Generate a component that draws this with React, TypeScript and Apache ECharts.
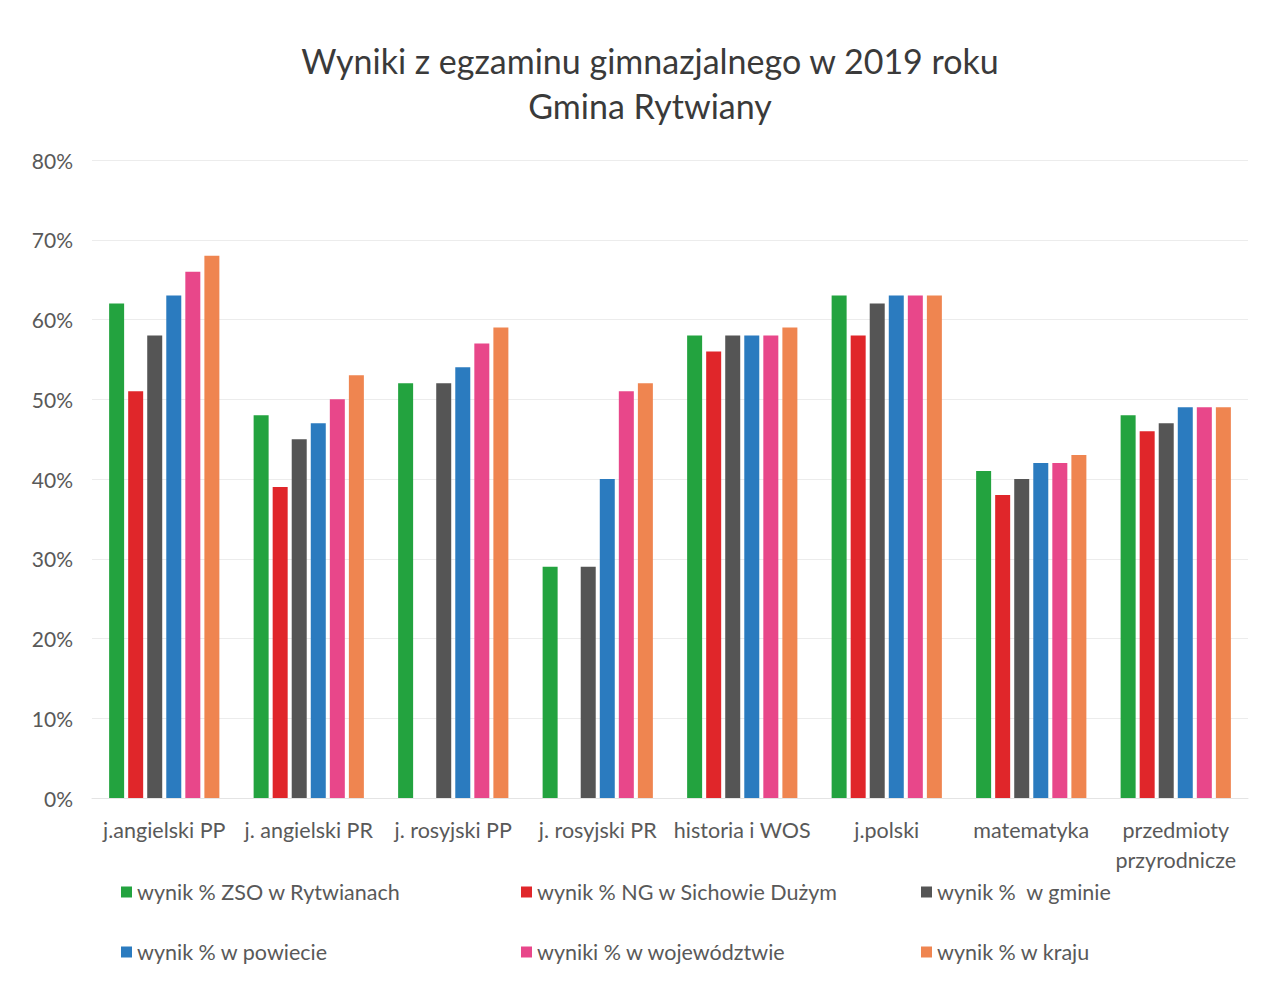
import React, { useEffect, useRef } from "react";
import * as echarts from "echarts";

const categories = [
  "j.angielski PP",
  "j. angielski PR",
  "j. rosyjski PP",
  "j. rosyjski PR",
  "historia i WOS",
  "j.polski",
  "matematyka",
  "przedmioty\nprzyrodnicze",
];

const seriesNames = [
  "wynik % ZSO w Rytwianach",
  "wynik % NG w Sichowie Dużym",
  "wynik %  w gminie",
  "wynik % w powiecie",
  "wyniki % w województwie",
  "wynik % w kraju",
];

const zso = [62, 48, 52, 29, 58, 63, 41, 48];
const ng = [51, 39, null, null, 56, 58, 38, 46];
const gmina = [58, 45, 52, 29, 58, 62, 40, 47];
const powiat = [63, 47, 54, 40, 58, 63, 42, 49];
const wojewodztwo = [66, 50, 57, 51, 58, 63, 42, 49];
const kraj = [68, 53, 59, 52, 59, 63, 43, 49];

const seriesValues = [zso, ng, gmina, powiat, wojewodztwo, kraj];
const colors = ["#23a33f", "#e0262a", "#555555", "#2b7bbf", "#e8478a", "#ef8550"];

const legendPos = [
  { left: 116, top: 876 },
  { left: 516, top: 876 },
  { left: 916, top: 876 },
  { left: 116, top: 936 },
  { left: 516, top: 936 },
  { left: 916, top: 936 },
];

export default function App() {
  const ref = useRef<HTMLDivElement>(null);
  useEffect(() => {
    if (!ref.current) return;
    const chart = echarts.init(ref.current, null, { renderer: "svg" });
    const font = "Lato, 'Open Sans', sans-serif";
    chart.setOption({
      animation: false,
      backgroundColor: "#ffffff",
      textStyle: { fontFamily: font },
      title: {
        text: "Wyniki z egzaminu gimnazjalnego w 2019 roku\nGmina Rytwiany",
        left: 645,
        top: 33,
        textAlign: "center",
        textStyle: {
          fontSize: 34,
          fontWeight: "normal",
          color: "#3a3a3a",
          lineHeight: 45,
          fontFamily: font,
        },
      },
      legend: seriesNames.map((n, i) => ({
        data: [n],
        left: legendPos[i].left,
        top: legendPos[i].top,
        icon: "rect",
        itemWidth: 11,
        itemHeight: 11,
        itemGap: 6,
        textStyle: { fontSize: 21.5, color: "#595959", fontFamily: font },
      })),
      grid: { left: 92, right: 17, top: 160, bottom: 187, containLabel: false },
      xAxis: {
        type: "category",
        data: categories,
        axisTick: { show: false },
        axisLine: { show: true, lineStyle: { color: "#e4e4e4" } },
        axisLabel: {
          interval: 0,
          fontSize: 21.5,
          color: "#595959",
          margin: 17,
          lineHeight: 30,
          fontFamily: font,
        },
      },
      yAxis: {
        type: "value",
        min: 0,
        max: 80,
        interval: 10,
        axisLine: { show: false },
        axisTick: { show: false },
        splitLine: { lineStyle: { color: "#ececec" } },
        axisLabel: {
          formatter: "{value}%",
          fontSize: 21,
          color: "#595959",
          margin: 19,
          fontFamily: font,
        },
      },
      series: seriesNames.map((n, i) => ({
        name: n,
        type: "bar",
        data: seriesValues[i],
        barWidth: 15,
        barGap: "27%",
        itemStyle: { color: colors[i] },
      })),
    });
    return () => chart.dispose();
  }, []);
  return (
    <div
      ref={ref}
      style={{ position: "fixed", left: 0, top: 0, width: 1265, height: 985 }}
    />
  );
}
